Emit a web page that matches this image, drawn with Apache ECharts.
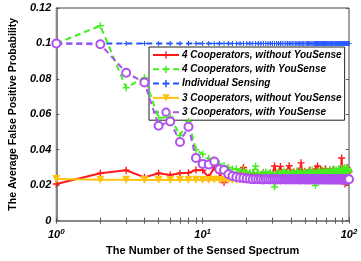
<!DOCTYPE html>
<html>
<head>
<meta charset="utf-8">
<script src="https://cdn.jsdelivr.net/npm/echarts@6/dist/echarts.min.js"></script>
<style>html,body{margin:0;padding:0;background:#fff;}#c{width:361px;height:261px;}</style>
</head>
<body>
<div id="c"></div>
<script>
const spectrum = [1,2,3,4,5,6,7,8,9,10,11,12,13,14,15,16,17,18,19,20,21,22,23,24,25,26,27,28,29,30,31,32,33,34,35,36,37,38,39,40,41,42,43,44,45,46,47,48,49,50,51,52,53,54,55,56,57,58,59,60,61,62,63,64,65,66,67,68,69,70,71,72,73,74,75,76,77,78,79,80,81,82,83,84,85,86,87,88,89,90,91,92,93,94,95,96,97,98,99,100];

const seriesNames = ['4 Cooperators, without YouSense','4 Cooperators, with YouSense','Individual Sensing','3 Cooperators, without YouSense','3 Cooperators, with YouSense'];

const coop4Without = [
0.0207,0.0267,0.0284,0.0244,0.0267,0.0258,0.0267,0.0270,0.0285,0.0284,
0.0245,0.0300,0.0270,0.0215,0.0262,0.0255,0.0260,0.0268,0.0300,0.0258,
0.0262,0.0270,0.0255,0.0265,0.0258,0.0272,0.0260,0.0255,0.0268,0.0262,
0.0308,0.0260,0.0270,0.0306,0.0265,0.0258,0.0272,0.0262,0.0310,0.0268,
0.0262,0.0275,0.0260,0.0268,0.0280,0.0262,0.0326,0.0270,0.0265,0.0278,
0.0262,0.0270,0.0258,0.0285,0.0268,0.0262,0.0275,0.0265,0.0290,0.0270,
0.0308,0.0275,0.0262,0.0288,0.0270,0.0282,0.0265,0.0272,0.0292,0.0268,
0.0262,0.0278,0.0268,0.0285,0.0262,0.0275,0.0270,0.0290,0.0265,0.0278,
0.0268,0.0282,0.0262,0.0275,0.0290,0.0270,0.0285,0.0268,0.0353,0.0275,
0.0285,0.0268,0.0290,0.0207,0.0280,0.0272,0.0300,0.0268,0.0285,0.0275
];

const coop4With = [
0.1000,0.1100,0.0750,0.0807,0.0580,0.0585,0.0480,0.0560,0.0400,0.0375,
0.0350,0.0340,0.0320,0.0310,0.0300,0.0290,0.0292,0.0280,0.0285,0.0275,
0.0272,0.0268,0.0307,0.0270,0.0262,0.0268,0.0275,0.0265,0.0270,0.0262,
0.0190,0.0268,0.0275,0.0262,0.0270,0.0280,0.0265,0.0272,0.0268,0.0262,
0.0275,0.0268,0.0262,0.0280,0.0270,0.0265,0.0278,0.0262,0.0270,0.0275,
0.0268,0.0262,0.0280,0.0270,0.0265,0.0285,0.0270,0.0262,0.0198,0.0275,
0.0268,0.0280,0.0265,0.0272,0.0285,0.0268,0.0262,0.0278,0.0270,0.0282,
0.0265,0.0275,0.0268,0.0288,0.0262,0.0272,0.0280,0.0268,0.0290,0.0265,
0.0275,0.0285,0.0270,0.0262,0.0292,0.0272,0.0280,0.0268,0.0295,0.0275,
0.0285,0.0270,0.0300,0.0280,0.0268,0.0295,0.0282,0.0275,0.0290,0.0280
];

const individual = [
0.1,0.1,0.1,0.1,0.1,0.1,0.1,0.1,0.1,0.1,
0.1,0.1,0.1,0.1,0.1,0.1,0.1,0.1,0.1,0.1,
0.1,0.1,0.1,0.1,0.1,0.1,0.1,0.1,0.1,0.1,
0.1,0.1,0.1,0.1,0.1,0.1,0.1,0.1,0.1,0.1,
0.1,0.1,0.1,0.1,0.1,0.1,0.1,0.1,0.1,0.1,
0.1,0.1,0.1,0.1,0.1,0.1,0.1,0.1,0.1,0.1,
0.1,0.1,0.1,0.1,0.1,0.1,0.1,0.1,0.1,0.1,
0.1,0.1,0.1,0.1,0.1,0.1,0.1,0.1,0.1,0.1,
0.1,0.1,0.1,0.1,0.1,0.1,0.1,0.1,0.1,0.1,
0.1,0.1,0.1,0.1,0.1,0.1,0.1,0.1,0.1,0.1
];

const coop3Without = [
0.0235,0.0230,0.0230,0.0229,0.0230,0.0229,0.0230,0.0229,0.0230,0.0229,
0.0229,0.0230,0.0229,0.0229,0.0230,0.0229,0.0229,0.0230,0.0229,0.0229,
0.0230,0.0229,0.0229,0.0230,0.0229,0.0229,0.0230,0.0229,0.0229,0.0230,
0.0229,0.0229,0.0230,0.0229,0.0229,0.0230,0.0229,0.0229,0.0230,0.0229,
0.0229,0.0230,0.0229,0.0229,0.0230,0.0229,0.0229,0.0230,0.0229,0.0229,
0.0230,0.0229,0.0229,0.0230,0.0229,0.0229,0.0230,0.0229,0.0229,0.0230,
0.0229,0.0229,0.0230,0.0229,0.0229,0.0230,0.0229,0.0229,0.0230,0.0229,
0.0229,0.0230,0.0229,0.0229,0.0230,0.0229,0.0229,0.0230,0.0229,0.0229,
0.0230,0.0229,0.0229,0.0230,0.0229,0.0229,0.0230,0.0229,0.0229,0.0230,
0.0229,0.0229,0.0230,0.0229,0.0229,0.0230,0.0229,0.0229,0.0230,0.0229
];

const coop3With = [
0.1000,0.0995,0.0835,0.0780,0.0535,0.0560,0.0444,0.0530,0.0353,0.0320,
0.0316,0.0334,0.0290,0.0285,0.0262,0.0252,0.0246,0.0242,0.0240,0.0238,
0.0236,0.0234,0.0235,0.0233,0.0234,0.0232,0.0234,0.0233,0.0232,0.0234,
0.0233,0.0232,0.0234,0.0232,0.0233,0.0234,0.0232,0.0233,0.0232,0.0234,
0.0233,0.0232,0.0233,0.0234,0.0232,0.0233,0.0232,0.0234,0.0233,0.0232,
0.0233,0.0234,0.0232,0.0233,0.0232,0.0234,0.0233,0.0232,0.0233,0.0234,
0.0232,0.0233,0.0232,0.0234,0.0233,0.0232,0.0233,0.0234,0.0232,0.0233,
0.0232,0.0234,0.0233,0.0232,0.0233,0.0234,0.0232,0.0233,0.0232,0.0234,
0.0233,0.0232,0.0233,0.0234,0.0232,0.0233,0.0232,0.0234,0.0233,0.0232,
0.0233,0.0234,0.0232,0.0233,0.0232,0.0234,0.0233,0.0232,0.0233,0.0233
];

const xTickValues = [1, 10, 100];
const xMinorTicks = [1,2,3,4,5,6,7,8,9,10,20,30,40,50,60,70,80,90,100];

function pairs(vals) { return vals.map((v, i) => [spectrum[i], v]); }

const FONT = 'Liberation Sans, Arial, sans-serif';
const plus = 'path://M-1,-5 L1,-5 L1,-1 L5,-1 L5,1 L1,1 L1,5 L-1,5 L-1,1 L-5,1 L-5,-1 L-1,-1 Z';

const chart = echarts.init(document.getElementById('c'), null, {renderer: 'canvas'});
chart.setOption({
  animation: false,
  backgroundColor: '#fff',
  grid: {left: 41, right: 12, top: 8, bottom: 33, show: true, borderColor: '#444', borderWidth: 1, backgroundColor: '#fff'},
  legend: {
    left: 149, top: 47, orient: 'vertical',
    data: seriesNames,
    itemWidth: 26, itemHeight: 9, itemGap: 4.3,
    padding: [3, 3, 3, 3],
    backgroundColor: '#fff', borderColor: '#222', borderWidth: 1,
    textStyle: {fontFamily: FONT, fontWeight: 'bold', fontStyle: 'italic', fontSize: 10, color: '#000', padding: [0,0,0,-2]}
  },
  xAxis: [{
    type: 'log', logBase: 10, min: 1, max: 100, position: 'bottom',
    axisLine: {show: true, lineStyle: {color: '#888', width: 2}},
    axisTick: {show: true, inside: true, length: 3, customValues: xMinorTicks, lineStyle: {color: '#555'}},
    splitLine: {show: false},
    axisLabel: {
      customValues: xTickValues,
      margin: 7,
      formatter: v => '{b|10}{s|' + Math.round(Math.log10(v)) + '}',
      rich: {
        b: {fontFamily: FONT, fontWeight: 'bold', fontStyle: 'italic', fontSize: 11, color: '#000'},
        s: {fontFamily: FONT, fontWeight: 'bold', fontStyle: 'italic', fontSize: 8, color: '#000', verticalAlign: 'top', padding: [0,0,6,0]}
      }
    },
    name: 'The Number of the Sensed Spectrum', nameLocation: 'middle', nameGap: 24,
    nameTextStyle: {fontFamily: FONT, fontWeight: 'bold', fontSize: 11, color: '#000'}
  }, {
    type: 'log', logBase: 10, min: 1, max: 100, position: 'top',
    axisLine: {show: false},
    axisTick: {show: true, inside: true, length: 3, customValues: xMinorTicks, lineStyle: {color: '#555'}},
    axisLabel: {show: false}, splitLine: {show: false}
  }],
  yAxis: [{
    type: 'value', min: 0, max: 0.12, interval: 0.02, position: 'left',
    axisLine: {show: true, lineStyle: {color: '#888', width: 2}},
    axisTick: {show: true, inside: true, length: 3, lineStyle: {color: '#555'}},
    splitLine: {show: false},
    axisLabel: {
      margin: 5,
      formatter: v => String(parseFloat(v.toFixed(2))),
      fontFamily: FONT, fontWeight: 'bold', fontStyle: 'italic', fontSize: 11, color: '#000'
    },
    name: 'The Average False Positive Probability', nameLocation: 'middle', nameGap: 28,
    nameTextStyle: {fontFamily: FONT, fontWeight: 'bold', fontSize: 10.5, color: '#000'}
  }, {
    type: 'value', min: 0, max: 0.12, interval: 0.02, position: 'right',
    axisLine: {show: false},
    axisTick: {show: true, inside: true, length: 3, lineStyle: {color: '#555'}},
    axisLabel: {show: false}, splitLine: {show: false}
  }],
  series: [
    {name: seriesNames[0], type: 'line', data: pairs(coop4Without), color: '#ff1a1a',
     symbol: plus, symbolSize: 7, showAllSymbol: true, lineStyle: {width: 2}, z: 3},
    {name: seriesNames[1], type: 'line', data: pairs(coop4With), color: '#44ee22',
     symbol: plus, symbolSize: 7, showAllSymbol: true, lineStyle: {width: 2, type: [6, 4]}, z: 4},
    {name: seriesNames[2], type: 'line', data: pairs(individual), color: '#2255ff',
     symbol: plus, symbolSize: 5, showAllSymbol: true, lineStyle: {width: 2, type: [6, 4]}, z: 2},
    {name: seriesNames[3], type: 'line', data: pairs(coop3Without), color: '#ffc20e',
     symbol: 'triangle', symbolRotate: 180, symbolSize: 8, showAllSymbol: true, lineStyle: {width: 2}, z: 3},
    {name: seriesNames[4], type: 'line', data: pairs(coop3With), color: '#b050f0',
     symbol: 'emptyCircle', symbolSize: 8, showAllSymbol: true, itemStyle: {borderWidth: 2}, lineStyle: {width: 2, type: [6, 4]}, z: 5}
  ]
});
</script>
</body>
</html>
